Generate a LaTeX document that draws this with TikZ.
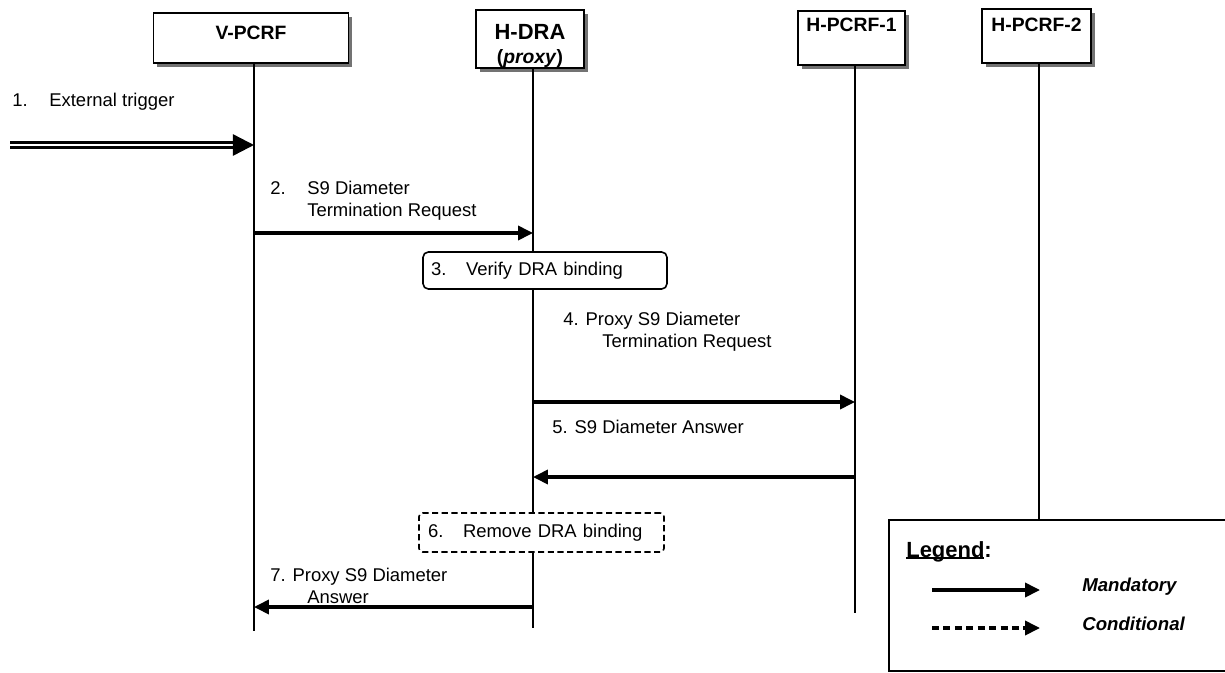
\documentclass[tikz,border=0pt]{standalone}
\usepackage{fontspec}
\setmainfont{Liberation Sans}
\usetikzlibrary{arrows.meta, positioning, shadows}
\newcommand{\undl}[1]{\setbox0\hbox{#1}\rlap{\rule[-1pt]{\wd0}{1.1pt}}\box0}

\begin{document}
\begin{tikzpicture}[x=0.02cm, y=-0.02cm,
    actor/.style={draw, line width=0.8pt, fill=white, inner sep=0pt,
      font=\bfseries\fontsize{11}{14}\selectfont,
      drop shadow={shadow xshift=2.2pt, shadow yshift=-2.2pt, fill=black!55, opacity=1}},
    life/.style={line width=0.6pt},
    msg/.style={line width=1.9pt, -{Triangle[length=8.5pt, width=8pt]}},
    trig/.style={double, double distance=1.5pt, line width=1.4pt, -{Triangle[length=12pt, width=12pt]}},
    lbl/.style={anchor=north west, inner sep=0pt, align=left, font=\fontsize{10.5}{12.5}\selectfont},
    act/.style={draw, line width=0.9pt, fill=white, inner ysep=0pt, align=left,
      font=\fontsize{10.5}{12.5}\selectfont}]
\clip (0,0) rectangle (1225,673);

\node[actor, minimum width=3.9cm, minimum height=1cm, text depth=5.6pt] (vp) at (251,38) {V-PCRF};
\node[actor, minimum width=2.16cm, minimum height=1.12cm, align=center, text height=30.7pt] (dra) at (530,39)
  {{\fontsize{12.5}{14}\selectfont H-DRA}\\(\textit{proxy})};
\node[actor, minimum width=2.14cm, minimum height=1.08cm, text depth=14.7pt] (hp1) at (851.5,38) {H-PCRF-1};
\node[actor, minimum width=2.18cm, minimum height=1.08cm, text depth=12.4pt] (hp2) at (1036.5,36) {H-PCRF-2};

\coordinate (vpB) at (254,631);
\coordinate (draB) at (533,628);
\coordinate (hp1B) at (855,613);
\coordinate (hp2B) at (1039,520);
\draw[life] (vp.south -| vpB) -- (vpB);
\draw[life] (dra.south -| draB) -- (draB);
\draw[life] (hp1.south -| hp1B) -- (hp1B);
\draw[life] (hp2.south -| hp2B) -- (hp2B);

\node[act, rounded corners=3pt, minimum height=0.74cm, text width=4.56cm, inner xsep=0.16cm] (vfy) at (545,270.5)
  {\makebox[0.7cm][l]{3.}Verify DRA binding};
\node[act, rounded corners=2pt, dash pattern=on 3.5pt off 2pt, minimum height=0.78cm, text width=4.54cm, inner xsep=0.18cm] (rmv) at (541.5,532.5)
  {\makebox[0.7cm][l]{6.}Remove DRA binding};

\coordinate (ext) at (10,145);
\coordinate (vp1) at (254,145);
\coordinate (vp2) at (254,233);
\coordinate (dra2) at (533,233);
\coordinate (dra4) at (533,402);
\coordinate (hp14) at (855,402);
\coordinate (hp15) at (855,477);
\coordinate (dra5) at (533,477);
\coordinate (dra7) at (533,607);
\coordinate (vp7) at (254,607);
\draw[trig] (ext) -- (vp1);
\draw[msg] (vp2) -- (dra2);
\draw[msg] (dra4) -- (hp14);
\draw[msg] (hp15) -- (dra5);
\draw[msg] (dra7) -- (vp7);

\node[lbl] (t1) at (12,93) {\makebox[0.74cm][l]{1.}External trigger};
\node[lbl] (t2) at (270,181) {\makebox[0.74cm][l]{2.}S9 Diameter\\\hspace*{0.74cm}Termination Request};
\node[lbl] (t4) at (563,312) {4. Proxy S9 Diameter\\\hspace*{0.78cm}Termination Request};
\node[lbl] (t5) at (552,420) {5. S9 Diameter Answer};
\node[lbl] (t7) at (270,568) {7. Proxy S9 Diameter\\\hspace*{0.74cm}Answer};

\node[draw, line width=1.4pt, minimum width=7.04cm, minimum height=3.02cm, anchor=north west] (legend) at (888,519) {};
\node[anchor=base west, inner sep=0pt, font=\bfseries\fontsize{12.5}{15}\selectfont] (legtitle) at (906,557) {\undl{Legend}:};
\coordinate (manA) at (932,590);
\coordinate (manB) at (1040,590);
\coordinate (conA) at (932,628);
\coordinate (conB) at (1040,628);
\draw[msg] (manA) -- (manB);
\draw[msg, dash pattern=on 4pt off 2.5pt] (conA) -- (conB);
\node[anchor=west, inner sep=0pt, font=\bfseries\itshape\fontsize{10.6}{13}\selectfont] (mand) at (1082,587) {Mandatory};
\node[anchor=west, inner sep=0pt, font=\bfseries\itshape\fontsize{10.6}{13}\selectfont] (cond) at (1082,624) {Conditional};
\end{tikzpicture}
\end{document}
